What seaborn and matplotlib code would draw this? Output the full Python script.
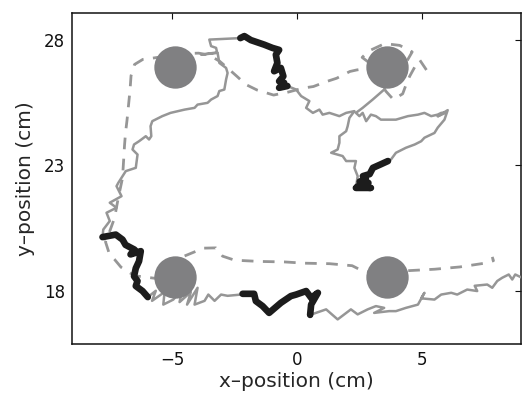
import numpy as np
import pandas as pd
import matplotlib
matplotlib.use("Agg")
import matplotlib.pyplot as plt
import seaborn as sns

# Object locations (cm)
object_x = [-4.87, 3.58, -4.87, 3.58]
object_y = [26.92, 26.92, 18.55, 18.55]

# Solid trajectory (cm), from the right edge to its end at the upper-right object
trail_x = [9.2, 8.99, 8.72, 8.6, 8.46, 8.2, 8.0, 7.8, 7.6, 7.1, 7.2, 6.8, 6.4, 6.16, 5.76,
           5.49, 4.96, 5.09, 4.83, 4.35, 3.95, 3.68, 3.08, 3.48, 3.15, 2.82, 2.42, 2.15,
           1.62, 1.16, 0.52,
           0.56, 0.83, 0.56, 0.36, -0.04, -0.25, -0.65, -1.12, -1.38, -1.65, -1.72, -2.18,
           -2.25, -2.78, -3.04, -3.3, -3.55, -3.7, -4.1, -3.98, -4.4, -4.25, -4.7, -4.6,
           -4.95, -5.35, -5.3, -5.8, -5.65, -5.97,
           -6.18, -6.45, -6.38, -6.52, -6.45, -6.32, -6.25, -6.66, -6.5, -6.86, -6.98,
           -7.25, -7.78,
           -7.75, -7.49, -7.62, -7.22, -7.49, -7.02, -7.22, -7.15, -6.98, -6.85, -6.45,
           -6.38, -6.58, -6.52, -6.32, -6.05, -5.92, -5.83, -5.86, -5.79, -5.39, -5.06,
           -4.5, -4.1, -3.98, -3.58, -3.44, -3.18, -3.11, -2.91, -2.84, -2.78, -2.84,
           -3.11, -3.18, -3.84, -3.2, -3.24, -3.44, -3.51, -2.27,
           -2.11, -1.85, -1.32, -0.99, -0.72, -0.85, -0.79, -0.92, -0.65, -0.55, -0.72,
           -0.52, -0.72, -0.39,
           -0.04, 0.16, 0.49, 0.36, 0.63, 0.89, 1.02, 1.29, 1.69, 1.96, 2.29,
           2.09, 2.02, 1.96, 1.69, 1.69, 1.62, 1.36, 1.82, 1.96, 2.35, 2.29, 2.42, 2.35,
           2.95, 2.4, 2.85, 2.5, 2.75, 2.63, 2.9, 3.03, 3.3, 3.63,
           3.75, 3.95, 4.35, 4.7, 4.96, 5.09, 5.49, 5.62, 5.89, 6.02, 5.62, 5.95, 5.76,
           5.62, 5.36, 5.09, 4.83, 4.43, 3.95, 3.35, 3.15, 2.95, 2.76, 2.62, 2.49, 2.35,
           2.62, 3.02, 3.48, 3.6]
trail_y = [18.3, 18.52, 18.65, 18.45, 18.65, 18.52, 18.39, 18.12, 18.25, 18.2, 17.99, 18.05,
           17.85, 17.92, 17.85, 17.65, 17.7, 17.92, 17.45, 17.32, 17.19, 17.19, 17.12, 17.32,
           17.39, 17.26, 17.06, 17.26, 16.86, 17.26, 17.04,
           17.45, 17.92, 17.72, 17.99, 17.85, 17.79, 17.52, 17.12, 17.39, 17.59, 17.88, 17.88,
           17.85, 17.8, 17.85, 17.6, 17.85, 17.6, 17.45, 18.12, 17.45, 17.95, 17.55, 18.05,
           17.65, 17.45, 17.95, 17.6, 18.0, 17.75,
           17.99, 18.19, 18.39, 18.58, 18.9, 19.18, 19.58, 19.45, 19.64, 19.83, 20.04,
           20.24, 20.14,
           20.44, 20.78, 21.11, 21.31, 21.51, 21.77, 22.17, 22.3, 22.57, 22.77, 22.9,
           23.43, 23.63, 23.83, 23.96, 24.16, 24.03, 24.16, 24.56, 24.76, 24.96, 25.09,
           25.22, 25.29, 25.42, 25.49, 25.62, 25.76, 25.96, 26.02, 26.42, 26.68, 26.88,
           27.08, 27.48, 27.41, 27.5, 27.68, 27.75, 28.01, 28.07,
           28.15, 27.99, 27.81, 27.68, 27.6, 27.41, 27.08, 26.75, 26.88, 26.55, 26.35,
           26.29, 26.09, 26.16,
           26.02, 25.76, 25.56, 25.29, 25.09, 25.22, 25.02, 25.09, 24.96, 25.09, 25.16,
           24.89, 24.56, 24.36, 24.16, 23.9, 23.63, 23.5, 23.37, 23.17, 23.17, 22.9, 22.57, 22.1,
           22.1, 22.15, 22.3, 22.35, 22.45, 22.57, 22.65, 22.9, 23.02, 23.17,
           23.23, 23.5, 23.7, 23.83, 23.96, 24.1, 24.29, 24.5, 24.82, 25.2, 24.95, 25.1, 25.09,
           25.02, 24.96, 25.09, 25.02, 24.96, 24.82, 24.82, 24.96, 25.02, 24.76, 25.09, 24.96, 25.09,
           25.29, 25.62, 26.02, 26.5]

# Highlighted stretches of the same trajectory
seg1_x = [-5.97, -6.18, -6.45, -6.38, -6.52, -6.45, -6.32, -6.25, -6.66, -6.5, -6.86, -6.98, -7.25, -7.78]
seg1_y = [17.75, 17.99, 18.19, 18.39, 18.58, 18.9, 19.18, 19.58, 19.45, 19.64, 19.83, 20.04, 20.24, 20.14]
seg2_x = [0.52, 0.56, 0.83, 0.56, 0.36, -0.04, -0.25, -0.65, -1.12, -1.38, -1.65, -1.72, -2.18]
seg2_y = [17.04, 17.45, 17.92, 17.72, 17.99, 17.85, 17.79, 17.52, 17.12, 17.39, 17.59, 17.88, 17.88]
seg3_x = [-2.27, -2.11, -1.85, -1.32, -0.99, -0.72, -0.85, -0.79, -0.92, -0.65, -0.55, -0.72, -0.52, -0.72, -0.39]
seg3_y = [28.07, 28.15, 27.99, 27.81, 27.68, 27.6, 27.41, 27.08, 26.75, 26.88, 26.55, 26.35, 26.29, 26.09, 26.16]
seg4_x = [2.35, 2.95, 2.4, 2.85, 2.5, 2.75, 2.63, 2.9, 3.03, 3.3, 3.63]
seg4_y = [22.1, 22.1, 22.15, 22.3, 22.35, 22.45, 22.57, 22.65, 22.9, 23.02, 23.17]

# Dashed trajectory (cm)
route_x = [5.17, 4.9, 4.72, 4.5, 4.35, 4.22, 3.85, 3.55, 3.2, 3.0, 2.6, 2.85, 3.5, 4.1, 4.6,
           4.3, 3.6, 2.7, 2.38, 2.11, 1.58, 1.18, 0.65, 0.25, -0.35, -0.94, -1.6, -2.05,
           -2.4, -2.75, -3.1, -3.54, -3.94, -4.6, -5.72, -6.17, -6.5, -6.64, -6.68, -6.74,
           -6.8, -6.86, -6.9, -6.93, -6.98, -7.15, -7.3, -7.5, -7.66, -7.5, -7.3, -7.04,
           -6.5, -5.7, -5.0, -4.54, -3.74, -3.25, -2.98, -2.5, -1.5, -0.5, 0.3, 1.3, 2.2,
           2.6, 3.6, 4.4, 5.5, 6.5, 7.5, 7.85, 7.8]
route_y = [26.8, 27.2, 26.95, 26.55, 26.2, 25.85, 25.62, 25.95, 26.5, 27.0, 27.3, 27.55, 27.85,
           27.78, 27.52, 27.0, 26.9, 26.85, 26.8, 26.74, 26.47, 26.34, 26.14, 26.08, 25.92,
           25.8, 26.0, 26.22, 26.54, 26.85, 27.15, 27.4, 27.47, 27.45, 27.28, 27.22, 27.02,
           26.57, 26.0, 25.4, 24.8, 24.3, 23.8, 23.3, 22.5, 21.7, 20.9, 20.35, 19.95, 19.45,
           19.25, 18.94, 18.6, 18.5, 18.9, 19.37, 19.7, 19.71, 19.38, 19.22, 19.17, 19.15,
           19.1, 19.08, 19.0, 18.8, 18.6, 18.8, 18.86, 18.95, 19.1, 19.2, 19.35]

x_ticks = [-5, 0, 5]
y_ticks = [18, 23, 28]

sns.set_style("white")
plt.rcParams["font.family"] = ["DejaVu Sans"]

fig = plt.figure(figsize=(5.22, 3.98), dpi=100)
ax = fig.add_axes([72 / 522, 54 / 398, 449 / 522, 331 / 398])

trail_grey = "#969696"
sns.lineplot(x=route_x, y=route_y, sort=False, estimator=None, ax=ax, color=trail_grey,
             lw=2.0, linestyle=(0, (4.2, 3.4)), zorder=2)
sns.lineplot(x=trail_x, y=trail_y, sort=False, estimator=None, ax=ax, color=trail_grey,
             lw=1.8, zorder=3)
for sx, sy in [(seg1_x, seg1_y), (seg2_x, seg2_y), (seg3_x, seg3_y), (seg4_x, seg4_y)]:
    sns.lineplot(x=sx, y=sy, sort=False, estimator=None, ax=ax, color="#1c1c1c",
                 lw=4.8, zorder=5, solid_joinstyle="round", solid_capstyle="round")
sns.scatterplot(x=object_x, y=object_y, ax=ax, s=930, color="#808082", linewidth=0,
                zorder=4)

ax.set_xlim(-9, 8.95)
ax.set_ylim(15.88, 29.07)
ax.set_xticks(x_ticks)
ax.set_yticks(y_ticks)
ax.set_xticklabels(["\u22125", "0", "5"])
ax.tick_params(direction="in", length=4, width=0.8, top=True, right=True,
               labelsize=12, pad=5, colors="#111111")
for sp in ax.spines.values():
    sp.set_visible(True)
    sp.set_color("#111111")
    sp.set_linewidth(1.1)
ax.set_xlabel("x\u2013position (cm)", fontsize=14.5, labelpad=2)
ax.set_ylabel("y\u2013position (cm)", fontsize=14.5, labelpad=6)

fig.savefig("out.png", dpi=100)
